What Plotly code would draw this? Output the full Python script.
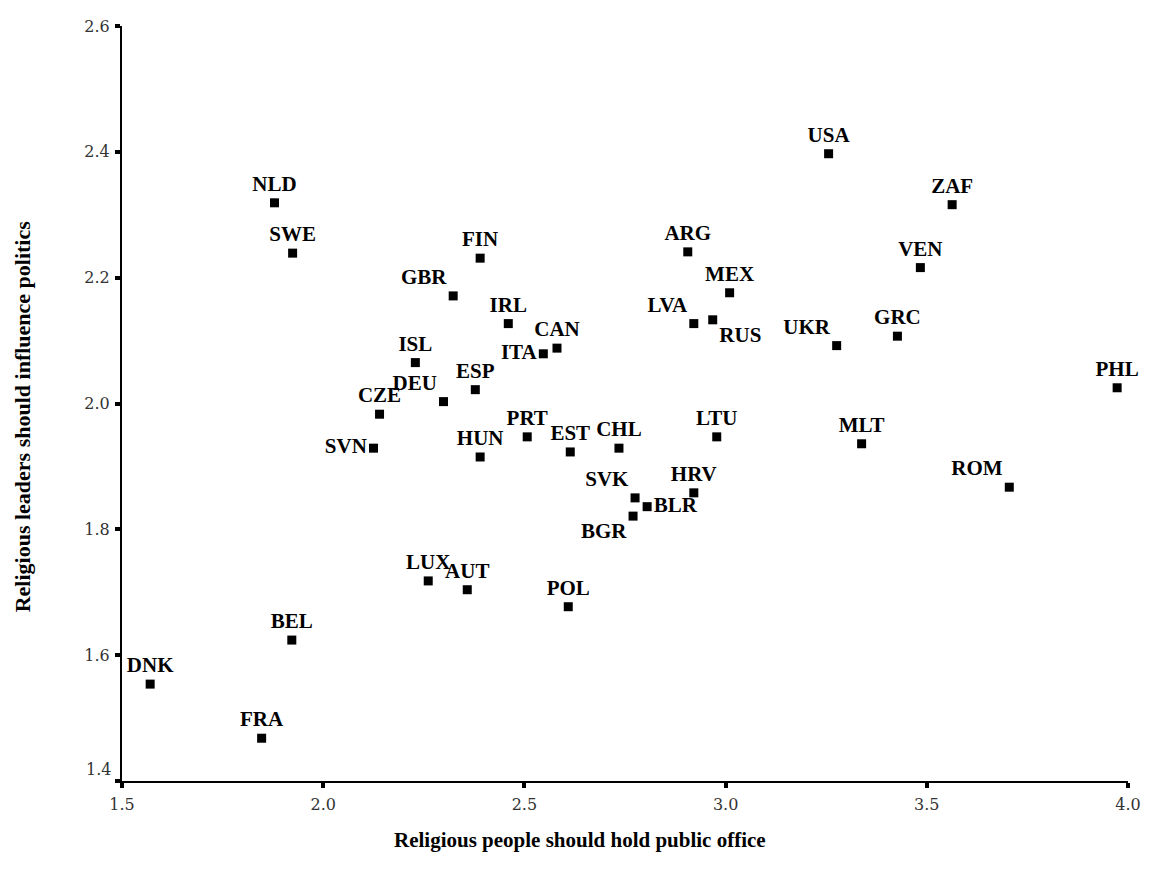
import plotly.graph_objects as go

countries = ["NLD", "SWE", "FIN", "GBR", "IRL", "CAN", "ITA", "ISL", "ESP", "DEU",
             "CZE", "SVN", "HUN", "PRT", "EST", "CHL", "LTU", "SVK", "BLR", "BGR",
             "HRV", "ARG", "MEX", "LVA", "RUS", "USA", "ZAF", "VEN", "UKR", "GRC",
             "PHL", "MLT", "ROM", "LUX", "AUT", "POL", "BEL", "DNK", "FRA"]
public_office = [1.879, 1.924, 2.390, 2.323, 2.460, 2.581, 2.547, 2.229, 2.378, 2.299,
                 2.140, 2.125, 2.390, 2.507, 2.614, 2.735, 2.978, 2.775, 2.805, 2.770,
                 2.921, 2.906, 3.010, 2.921, 2.968, 3.256, 3.563, 3.484, 3.276, 3.427,
                 3.973, 3.338, 3.705, 2.261, 2.358, 2.609, 1.922, 1.570, 1.847]
influence_politics = [2.319, 2.239, 2.231, 2.171, 2.127, 2.088, 2.079, 2.065, 2.022, 2.003,
                      1.983, 1.929, 1.915, 1.947, 1.923, 1.929, 1.947, 1.850, 1.836, 1.821,
                      1.858, 2.241, 2.176, 2.127, 2.133, 2.397, 2.316, 2.216, 2.092, 2.107,
                      2.025, 1.936, 1.867, 1.718, 1.704, 1.677, 1.624, 1.554, 1.468]

x_ticks = [1.5, 2.0, 2.5, 3.0, 3.5, 4.0]
y_ticks = [1.4, 1.6, 1.8, 2.0, 2.2, 2.4, 2.6]

label_pos = {
    "ITA": "middle left", "SVN": "middle left", "DEU": "top left", "SVK": "top left",
    "BLR": "middle right", "BGR": "bottom left", "LVA": "top left", "RUS": "bottom right",
    "UKR": "top left", "ROM": "top left", "GBR": "top left",
}
positions = [label_pos.get(c, "top center") for c in countries]

fig = go.Figure()
fig.add_trace(go.Scatter(
    x=public_office, y=influence_politics, text=countries,
    mode="markers+text", textposition=positions,
    marker=dict(symbol="square", size=9, color="black"),
    textfont=dict(family="Liberation Serif", size=21, color="black", weight="bold"),
    cliponaxis=False, hoverinfo="skip", showlegend=False,
))

tickfont = dict(family="DejaVu Serif", size=16, color="#333333")
fig.update_xaxes(
    range=[1.5, 4.0], tickvals=x_ticks, ticktext=[f"{v:.1f}" for v in x_ticks],
    showgrid=False, zeroline=False, showline=True, linecolor="black", linewidth=2,
    ticks="outside", ticklen=5, tickwidth=4, tickcolor="black", tickfont=tickfont,
    ticklabelstandoff=3,
)
fig.update_yaxes(
    range=[1.4, 2.6], tickvals=y_ticks,
    ticktext=["" if v == y_ticks[0] else f"{v:.1f}" for v in y_ticks],
    showgrid=False, zeroline=False, showline=True, linecolor="black", linewidth=2,
    ticks="outside", ticklen=5, tickwidth=4, tickcolor="black", tickfont=tickfont,
    ticklabelstandoff=2,
)
# bottom y tick label sits slightly above its tick, as in the original
fig.add_annotation(text=f"{y_ticks[0]:.1f}", xref="paper", yref="y", x=0, y=y_ticks[0],
                   xanchor="right", yanchor="middle", xshift=-9, yshift=12,
                   showarrow=False, font=tickfont)

title_font = dict(family="Liberation Serif", size=21, color="black", weight="bold")
fig.add_annotation(text="Religious people should hold public office", xref="paper", yref="paper",
                   x=0.455, y=0, yshift=-59, showarrow=False, font=title_font, yanchor="middle")
fig.add_annotation(text="Religious leaders should influence politics", xref="paper", yref="paper",
                   x=0, xshift=-100, y=0.483, showarrow=False,
                   font=dict(family="Liberation Serif", size=22, color="black", weight="bold"),
                   textangle=-90, xanchor="center", yanchor="middle")

fig.update_layout(
    width=1153, height=880, plot_bgcolor="white", paper_bgcolor="white",
    margin=dict(l=122, r=15, t=26, b=99),
)
fig.write_html("out.html", config={"displayModeBar": False},
               post_script="document.body.style.margin='0';")
